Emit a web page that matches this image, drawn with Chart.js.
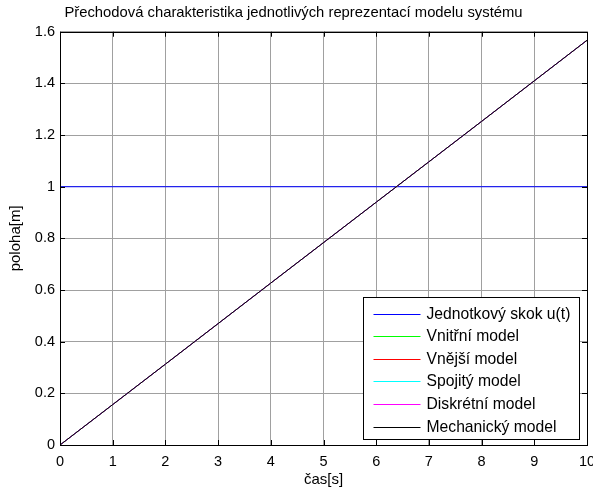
<!DOCTYPE html>
<html>
<head>
<meta charset="utf-8">
<script src="https://cdn.jsdelivr.net/npm/chart.js@4.4.1/dist/chart.umd.min.js"></script>
<style>
  html, body { margin: 0; padding: 0; background: #fff; }
  canvas { display: block; }
</style>
</head>
<body>
<canvas id="graf" width="593" height="492"></canvas>
<script>
// hodnoty
const nazvy = ["Jednotkový skok u(t)", "Vnitřní model", "Vnější model", "Spojitý model", "Diskrétní model", "Mechanický model"];
const barvy = ["#0000ff", "#00ff00", "#ff0000", "#00ffff", "#ff00ff", "#000000"];

const skokCas = [0, 10];
const skokHodnota = [1, 1];

const cas = [0, 2, 4, 6, 8, 10];
const vnitrni = [0, 0.313, 0.627, 0.94, 1.253, 1.567];
const vnejsi = [0, 0.313, 0.627, 0.94, 1.253, 1.567];
const spojity = [0, 0.313, 0.627, 0.94, 1.253, 1.567];
const diskretni = [0, 0.313, 0.627, 0.94, 1.253, 1.567];
const mechanicky = [0, 0.313, 0.627, 0.94, 1.253, 1.567];

const xTicks = [0, 1, 2, 3, 4, 5, 6, 7, 8, 9, 10];
const yTicks = [0, 0.2, 0.4, 0.6, 0.8, 1, 1.2, 1.4, 1.6];
const yTickLabels = ["0", "0.2", "0.4", "0.6", "0.8", "1", "1.2", "1.4", "1.6"];

function body(xs, ys) {
  return xs.map((x, i) => ({ x: x, y: ys[i] }));
}

const serie = [
  body(skokCas, skokHodnota),
  body(cas, vnitrni),
  body(cas, vnejsi),
  body(cas, spojity),
  body(cas, diskretni),
  body(cas, mechanicky)
];

Chart.defaults.font.family = "'Liberation Sans', Arial, sans-serif";
Chart.defaults.font.size = 14;
Chart.defaults.color = "#000";

// ramecek os a tiky dovnitr jako v Matlabu
const ramecek = {
  id: "ramecek",
  afterDatasetsDraw(chart) {
    const { ctx, chartArea: a, scales } = chart;
    ctx.save();
    ctx.strokeStyle = "#000";
    ctx.lineWidth = 1;
    ctx.beginPath();
    xTicks.forEach(v => {
      const px = Math.round(scales.x.getPixelForValue(v)) + 0.5;
      ctx.moveTo(px, a.bottom); ctx.lineTo(px, a.bottom - 5);
      ctx.moveTo(px, a.top); ctx.lineTo(px, a.top + 5);
    });
    yTicks.forEach(v => {
      const py = Math.round(scales.y.getPixelForValue(v)) + 0.5;
      ctx.moveTo(a.left, py); ctx.lineTo(a.left + 5, py);
      ctx.moveTo(a.right, py); ctx.lineTo(a.right - 5, py);
    });
    ctx.stroke();
    ctx.strokeRect(Math.round(a.left) + 0.5, Math.round(a.top) + 0.5,
      Math.round(a.right - a.left), Math.round(a.bottom - a.top));
    ctx.restore();
  },
  afterDraw(chart) {
    const { ctx, chartArea: a } = chart;
    const sady = chart.data.datasets;
    const w = 216, h = 142;
    const x0 = Math.round(a.right - 8 - w) + 0.5;
    const y0 = Math.round(a.bottom - 6 - h) + 0.5;
    ctx.save();
    ctx.fillStyle = "#fff";
    ctx.fillRect(x0, y0, w, h);
    ctx.strokeStyle = "#000";
    ctx.lineWidth = 1;
    ctx.strokeRect(x0, y0, w, h);
    ctx.font = "15.7px 'Liberation Sans', Arial, sans-serif";
    ctx.textBaseline = "middle";
    ctx.fillStyle = "#000";
    sady.forEach((d, i) => {
      const ry = Math.round(y0 + 16 + i * 22.6) + 0.5;
      ctx.strokeStyle = d.borderColor;
      ctx.beginPath();
      ctx.moveTo(x0 + 10, ry);
      ctx.lineTo(x0 + 57, ry);
      ctx.stroke();
      ctx.fillText(d.label, x0 + 63, ry);
    });
    ctx.restore();
  }
};

new Chart(document.getElementById("graf"), {
  type: "line",
  data: {
    datasets: serie.map((s, i) => ({
      label: nazvy[i],
      data: s,
      borderColor: barvy[i],
      backgroundColor: barvy[i],
      borderWidth: 1,
      pointRadius: 0,
      tension: 0,
      fill: false,
      order: serie.length - i
    }))
  },
  options: {
    responsive: false,
    animation: false,
    layout: { padding: { left: 0, right: 6, top: 0, bottom: 0 } },
    plugins: {
      legend: { display: false },
      tooltip: { enabled: false },
      title: {
        display: true,
        text: "Přechodová charakteristika jednotlivých reprezentací modelu systému",
        font: { size: 14.8, weight: "normal" },
        color: "#000",
        padding: { top: 4, bottom: 10 }
      }
    },
    scales: {
      x: {
        type: "linear",
        min: 0,
        max: 10,
        afterBuildTicks: s => { s.ticks = xTicks.map(v => ({ value: v })); },
        afterFit: s => { s.height = 47; s.paddingLeft = 0; s.paddingRight = 0; },
        ticks: { padding: 8, maxRotation: 0, autoSkip: false, font: { size: 14.5 } },
        grid: { color: "#a0a0a0", drawTicks: false },
        border: { display: false },
        title: { display: true, text: "čas[s]", padding: { top: 0, bottom: 3 }, font: { size: 15 } }
      },
      y: {
        type: "linear",
        min: 0,
        max: 1.6,
        afterBuildTicks: s => { s.ticks = yTicks.map(v => ({ value: v })); },
        afterFit: s => { s.width = 60; s.paddingTop = 0; s.paddingBottom = 0; },
        ticks: {
          padding: 5,
          autoSkip: false,
          font: { size: 14.5 },
          callback: v => { const i = yTicks.indexOf(v); return i >= 0 ? yTickLabels[i] : ""; }
        },
        grid: { color: "#a0a0a0", drawTicks: false },
        border: { display: false },
        title: { display: true, text: "poloha[m]", padding: { top: 7, bottom: 0 }, font: { size: 15 } }
      }
    }
  },
  plugins: [ramecek]
});
</script>
</body>
</html>
